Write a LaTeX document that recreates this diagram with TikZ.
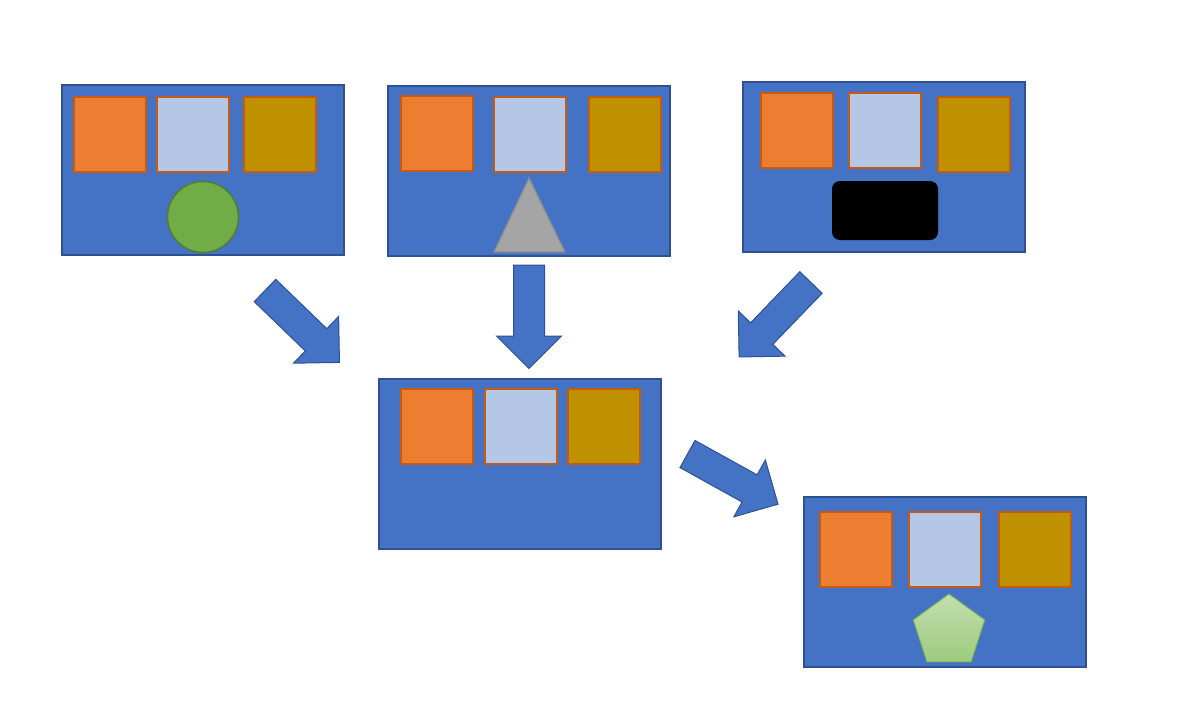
\documentclass[tikz,border=0pt]{standalone}
\usetikzlibrary{shapes.geometric}

\definecolor{panelblue}{HTML}{4472C4}
\definecolor{paneledge}{HTML}{2F528F}
\definecolor{sqorange}{HTML}{ED7D31}
\definecolor{sqlight}{HTML}{B4C7E7}
\definecolor{sqgold}{HTML}{BF9000}
\definecolor{sqedge}{HTML}{C55A11}
\definecolor{circgreen}{HTML}{70AD47}
\definecolor{circedge}{HTML}{507E32}
\definecolor{trigray}{HTML}{A5A5A5}
\definecolor{triedge}{HTML}{8C8C8C}
\definecolor{pentop}{HTML}{C2DFB0}
\definecolor{penbot}{HTML}{9ECB7E}
\definecolor{penedge}{HTML}{7FB45A}

\begin{document}
\begin{tikzpicture}
  [x=1pt,y=-1pt,
   panel/.style={draw=paneledge,fill=panelblue,line width=1.3pt,anchor=north west,
     minimum width=282pt,minimum height=170pt,inner sep=0pt,outer sep=0pt},
   sq/.style={draw=sqedge,line width=1.8pt,anchor=north west,
     minimum width=72pt,minimum height=75pt,inner sep=0pt},
   barrow/.pic={
     \draw[draw=paneledge,fill=panelblue,line width=1pt,line join=miter]
       (0,-15.5) -- (71,-15.5) -- (71,-32.5) -- (103.5,0) -- (71,32.5) -- (71,15.5) -- (0,15.5) -- cycle;}]
  \useasboundingbox (0,0) rectangle (1195,710);

  % top row
  \node[panel] (p1) at (62,85) {};
  \node[sq,fill=sqorange] (o1) at (73,96) {};
  \node[sq,fill=sqlight] (l1) at (156,96) {};
  \node[sq,fill=sqgold] (g1) at (243,96) {};
  \node[circle,draw=circedge,fill=circgreen,line width=1.5pt,minimum size=71pt,inner sep=0pt] (circ) at (203,217) {};

  \node[panel] (p2) at (388,86) {};
  \node[sq,fill=sqorange] (o2) at (400,95) {};
  \node[sq,fill=sqlight] (l2) at (493,96) {};
  \node[sq,fill=sqgold] (g2) at (588,96) {};
  \draw[draw=triedge,fill=trigray,line width=1.3pt] (529,178) -- (565,252) -- (494,252) -- cycle;

  \node[panel] (p3) at (743,82) {};
  \node[sq,fill=sqorange] (o3) at (760,92) {};
  \node[sq,fill=sqlight] (l3) at (848,92) {};
  \node[sq,fill=sqgold] (g3) at (937,96) {};
  \node[fill=black,rounded corners=8pt,minimum width=106pt,minimum height=59pt,inner sep=0pt] (blk) at (885,210.5) {};

  % middle and bottom
  \node[panel] (p4) at (379,379) {};
  \node[sq,fill=sqorange] (o4) at (400,388) {};
  \node[sq,fill=sqlight] (l4) at (484,388) {};
  \node[sq,fill=sqgold] (g4) at (567,388) {};

  \node[panel] (p5) at (804,497) {};
  \node[sq,fill=sqorange] (o5) at (819,511) {};
  \node[sq,fill=sqlight] (l5) at (908,511) {};
  \node[sq,fill=sqgold] (g5) at (998,511) {};
  \node[regular polygon,regular polygon sides=5,draw=penedge,top color=pentop,bottom color=penbot,
    line width=1pt,minimum size=75pt,inner sep=0pt] (pent) at (949,631.5) {};

  % block arrows
  \pic[rotate=-44] at (265,290.5) {barrow};
  \pic[rotate=-90] at (529,265) {barrow};
  \pic[rotate=-134] at (811,282.5) {barrow};
  \pic[rotate=-29] at (687.5,454) {barrow};
\end{tikzpicture}
\end{document}
